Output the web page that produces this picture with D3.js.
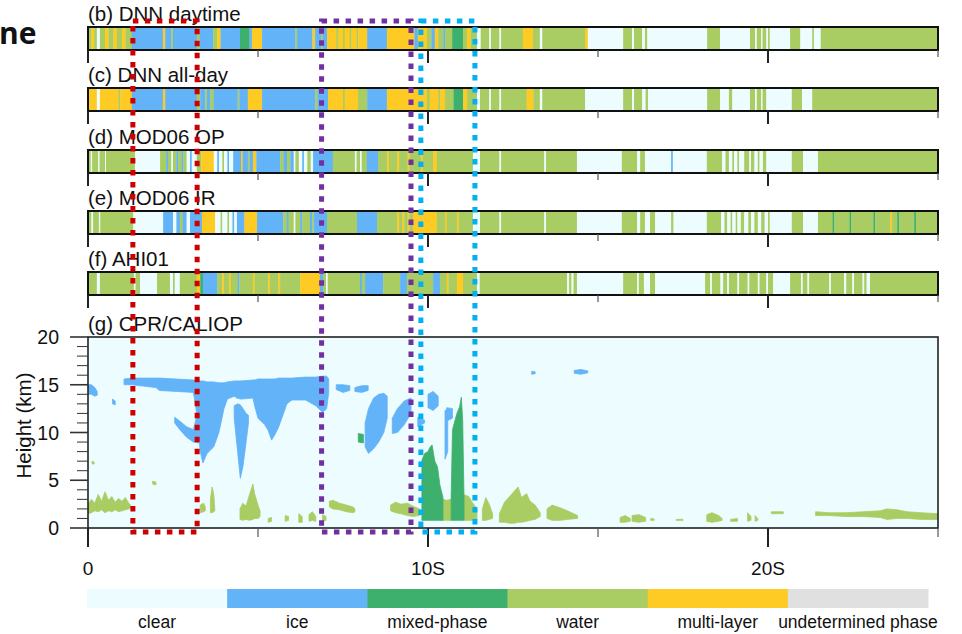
<!DOCTYPE html>
<html>
<head>
<meta charset="utf-8">
<script src="https://cdn.jsdelivr.net/npm/d3@7"></script>
<style>
  body { margin: 0; background: #fff; }
  svg { display: block; }
  text { font-family: "Liberation Sans", Arial, sans-serif; fill: #111; }
</style>
</head>
<body>
<svg id="chart" width="962" height="634"></svg>
<script>
// phase classes (index used in the strip data below)
const phaseNames  = ["clear", "ice", "mixed-phase", "water", "multi-layer", "undetermined phase"];
const phaseColors = ["#edfcff", "#62b3f8", "#3eb06e", "#a9cd62", "#fdcb24", "#e0e0e0"];

const stripNames = ["(b) DNN daytime", "(c) DNN all-day", "(d) MOD06 OP", "(e) MOD06 IR", "(f) AHI01"];

// each strip: [start latitude (deg S), phase] - segment runs to the next start
const dnnDaytime = [[0,3],[0.1,4],[0.18,3],[0.26,0],[0.35,3],[0.5,4],[0.6,3],[0.75,4],[0.85,3],[1.0,4],[1.1,3],
  [1.29,1],[2.2,4],[2.27,1],[2.45,3],[2.5,1],[3.2,3],[3.28,1],[3.68,3],[3.8,4],[3.9,1],[4.47,2],[4.75,1],[4.82,4],
  [5.12,1],[6.1,3],[6.15,1],[6.6,4],[6.68,1],[6.85,3],[6.9,1],[7.03,4],[7.3,3],[7.35,4],[7.5,3],[7.55,4],[7.7,3],
  [7.75,4],[7.9,3],[7.95,4],[8.21,1],[8.79,4],[9.6,1],[9.7,4],[9.97,3],[10.1,1],[10.2,4],[10.3,3],[10.45,1],[10.5,3],
  [10.71,2],[11.03,3],[11.15,4],[11.25,3],[11.44,0],[11.55,3],[11.8,0],[11.85,3],[12.1,0],[12.15,3],[12.79,4],
  [13.09,3],[13.29,0],[13.36,3],[14.62,4],[14.7,0],[15.74,3],[16.0,0],[16.06,3],[16.3,0],[16.38,3],[16.45,0],
  [18.21,3],[18.59,0],[19.47,3],[19.62,0],[19.67,3],[19.8,0],[19.84,3],[19.95,0],[20.0,3],[20.05,0],[20.65,3],
  [20.95,0],[21.3,3],[21.35,0],[21.55,3]];

const dnnAllDay = [[0,4],[0.26,0],[0.35,4],[0.9,3],[0.95,4],[1.29,1],[2.2,4],[2.27,1],[3.2,3],[3.3,1],[3.45,3],
  [3.5,1],[3.6,3],[3.7,1],[4.4,3],[4.45,1],[4.7,4],[5.12,1],[6.68,3],[6.75,1],[7.06,4],[7.5,3],[7.55,4],[7.94,3],
  [8.21,1],[8.79,4],[9.97,3],[10.05,4],[10.3,3],[10.35,4],[10.5,3],[10.75,2],[11.03,4],[11.15,3],[11.44,0],[11.53,3],
  [11.8,0],[11.85,3],[12.1,0],[12.15,3],[12.9,4],[13.1,3],[13.29,0],[13.36,3],[14.62,0],[15.74,3],[16.0,0],[16.06,3],
  [16.3,0],[16.4,3],[16.47,0],[18.21,3],[18.59,0],[18.85,3],[18.95,0],[19.47,3],[19.62,0],[19.67,3],[19.8,0],
  [19.84,3],[19.95,0],[20.7,3],[21.0,0],[21.3,3]];

const mod06Op = [[0,3],[0.08,0],[0.12,3],[0.3,0],[0.34,3],[0.5,0],[0.53,3],[1.38,0],[2.12,3],[2.3,1],[2.35,3],
  [2.45,0],[2.5,3],[2.6,1],[2.65,3],[2.75,1],[2.8,3],[2.9,0],[3.0,1],[3.05,0],[3.2,3],[3.33,4],[3.7,0],[3.8,1],
  [3.85,0],[3.95,3],[4.0,0],[4.1,1],[4.15,0],[4.27,1],[4.5,4],[4.55,1],[4.7,3],[4.75,1],[4.85,4],[4.95,1],[5.65,3],
  [5.75,1],[5.85,3],[5.95,1],[6.05,0],[6.1,3],[6.2,0],[6.3,1],[6.35,0],[6.45,3],[6.55,0],[6.62,1],[7.2,3],[7.85,0],
  [7.9,3],[8.0,0],[8.05,3],[8.2,1],[8.53,3],[8.8,4],[8.85,3],[9.09,4],[9.15,3],[9.4,4],[9.45,3],[9.8,4],[9.85,3],
  [10.15,4],[10.26,3],[11.32,0],[11.53,3],[12.1,0],[12.15,3],[13.42,0],[13.47,3],[14.38,0],[15.7,3],[16.15,0],
  [16.24,3],[16.38,0],[17.15,1],[17.2,0],[18.2,3],[18.65,0],[18.75,3],[18.85,0],[18.95,3],[19.0,0],[19.1,3],
  [19.15,0],[19.3,3],[19.45,0],[19.5,3],[19.6,0],[19.7,3],[19.75,0],[19.85,3],[19.95,0],[20.7,3],[21.03,0],[21.47,3]];

const mod06Ir = [[0,3],[0.1,0],[0.15,3],[0.32,0],[0.36,3],[1.33,0],[2.21,1],[2.5,0],[2.6,1],[2.7,3],[2.78,1],
  [2.9,0],[3.0,1],[3.35,4],[3.74,0],[3.9,3],[3.95,0],[4.1,3],[4.15,0],[4.25,1],[4.3,0],[4.38,1],[4.6,4],[4.97,1],
  [5.74,3],[5.85,1],[5.9,3],[6.05,0],[6.1,3],[6.24,1],[6.3,3],[6.53,1],[6.6,3],[6.65,1],[7.03,3],[7.91,1],[8.5,3],
  [9.09,4],[9.15,3],[9.25,4],[9.3,3],[9.4,4],[9.45,3],[9.56,4],[10.26,3],[10.5,4],[10.55,3],[10.85,4],[10.9,3],
  [11.32,0],[11.53,3],[12.1,0],[12.15,3],[13.42,0],[13.47,3],[14.38,0],[15.7,3],[16.15,0],[16.24,3],[16.38,0],
  [16.53,3],[16.68,0],[17.15,3],[17.22,0],[18.2,3],[18.62,0],[18.72,3],[18.8,0],[18.9,3],[18.95,0],[19.05,3],
  [19.1,0],[19.2,3],[19.3,0],[19.42,3],[19.5,0],[19.6,3],[19.7,0],[19.8,3],[19.9,0],[20.0,3],[20.05,0],[20.7,3],
  [21.03,0],[21.47,3],[21.9,2],[21.95,3],[22.4,2],[22.45,3],[23.1,2],[23.15,3],[23.6,4],[23.65,3],[23.8,2],
  [23.85,3],[24.3,2],[24.35,3]];

const ahi01 = [[0,3],[0.26,0],[0.35,3],[1.35,0],[1.4,3],[1.53,0],[2.03,3],[2.41,0],[2.5,3],[2.55,0],[2.7,3],
  [3.2,4],[3.3,2],[3.38,1],[3.8,3],[3.95,4],[4.0,3],[4.15,4],[4.2,3],[4.4,1],[4.45,3],[4.85,4],[4.9,3],[5.3,4],
  [5.35,3],[5.6,4],[5.65,3],[6.24,4],[6.82,1],[6.91,3],[7.0,0],[7.05,3],[8.0,1],[8.05,3],[8.15,1],[8.68,3],[9.18,1],
  [9.38,3],[10.15,1],[10.35,3],[10.55,4],[10.6,3],[10.85,4],[11.03,3],[11.44,0],[11.52,3],[14.09,0],[14.15,3],
  [14.22,0],[14.28,3],[14.38,0],[15.74,3],[16.15,0],[16.2,3],[16.35,0],[16.53,3],[16.68,0],[18.15,3],[18.3,0],
  [18.35,3],[18.6,0],[18.68,3],[18.8,0],[18.85,3],[19.1,0],[19.15,3],[19.4,0],[19.45,3],[19.7,0],[19.75,3],
  [19.95,0],[20.0,3],[20.15,0],[20.65,3],[20.97,0],[21.02,3],[21.16,0],[21.21,3],[21.8,0],[21.85,3],[22.24,0],
  [22.3,3],[22.48,0],[22.53,3],[22.78,0],[22.83,3],[22.9,0],[23.0,3]];

const stripData = [dnnDaytime, dnnAllDay, mod06Op, mod06Ir, ahi01];

// CPR/CALIOP cloud features: [latitude, base km, top km]
const iceClouds = [
  [[0,14.0,15.0],[0.1,14.0,15.0],[0.2,13.8,14.7],[0.27,13.9,14.3]],
  [[0.72,13.0,13.5],[0.8,12.9,13.3]],
  [[1.06,15.0,15.6],[1.3,15.0,15.7],[2.0,14.7,15.7],[2.1,14.4,15.7],[2.6,14.3,15.6],[3.1,14.2,15.5],[3.2,12.0,15.5],
   [3.3,8.0,15.4],[3.38,6.8,15.4],[3.5,7.8,15.3],[3.7,8.5,15.3],[3.85,10.0,15.2],[4.0,12.5,15.2],[4.1,13.5,15.3],
   [4.3,13.8,15.4],[4.38,13.6,15.4],[4.5,13.5,15.4],[4.85,13.6,15.5],[4.9,12.8,15.5],[5.0,11.5,15.6],[5.2,10.8,15.6],
   [5.3,10.2,15.6],[5.4,9.2,15.6],[5.5,9.8,15.6],[5.6,10.5,15.7],[5.75,12.0,15.7],[5.85,13.0,15.7],[6.0,13.4,15.7],
   [6.4,13.4,15.8],[6.7,12.8,15.8],[6.9,12.1,15.9],[7.02,12.5,15.9],[7.08,14.2,15.6]],
  [[2.55,11.0,11.6],[2.7,10.3,11.2],[2.9,9.5,10.6],[3.1,9.0,10.3],[3.25,8.9,12.5]],
  [[4.3,11.5,12.8],[4.4,8.0,13.0],[4.48,5.2,12.9],[4.56,6.5,12.5],[4.65,9.0,12.0],[4.72,11.0,11.8]],
  [[7.3,14.5,15.0],[7.5,14.2,15.0],[7.7,14.4,14.9]],
  [[7.85,14.3,14.7],[8.05,14.2,14.9],[8.24,14.4,14.9]],
  [[8.15,8.5,11.0],[8.25,7.8,12.5],[8.4,8.3,13.6],[8.55,9.0,14.0],[8.7,10.0,14.1],[8.8,11.5,13.8]],
  [[8.95,9.9,11.5],[9.1,10.0,12.5],[9.3,10.8,13.3],[9.5,12.0,13.6]],
  [[9.7,10.6,11.6],[9.8,10.8,11.4],[9.9,11.0,11.3]],
  [[10.0,12.6,14.0],[10.15,12.3,14.3],[10.3,12.8,13.8]],
  [[10.5,7.2,12.3],[10.58,8.0,12.4]],
  [[10.55,11.2,12.6],[10.72,11.5,12.5]],
  [[13.05,16.1,16.4],[13.15,16.15,16.35]],
  [[14.3,16.2,16.5],[14.5,16.1,16.6],[14.7,16.25,16.45]]
];

const mixedClouds = [
  [[7.95,9.0,9.9],[8.1,8.9,9.8]],
  [[9.82,0.8,7.1],[9.9,0.8,7.8],[10.0,0.8,8.0],[10.05,0.8,8.4],[10.12,0.8,8.7],[10.2,0.8,7.0],[10.28,0.8,6.4],
   [10.35,0.8,4.5],[10.44,0.8,3.2]],
  [[10.68,0.8,3.0],[10.72,0.8,10.3],[10.85,0.8,12.0],[10.93,0.8,12.7],[10.98,0.8,13.7],[11.02,0.8,11.3],[11.06,0.8,3.0]]
];

const waterClouds = [
  [[0,1.5,2.5],[0.1,1.6,3.0],[0.2,1.8,2.6],[0.3,1.7,3.5],[0.4,1.9,2.8],[0.5,1.6,3.8],[0.6,1.8,2.9],[0.7,1.7,3.3],
   [0.8,1.9,2.7],[0.9,1.7,3.1],[1.0,1.8,2.8],[1.1,1.9,3.2],[1.2,2.0,2.6],[1.25,2.1,2.4]],
  [[0.12,6.7,7.0],[0.18,6.7,6.9]],
  [[1.9,4.6,4.9],[2.0,4.5,4.8]],
  [[3.3,1.6,2.4],[3.4,1.7,2.6],[3.45,1.8,2.2]],
  [[3.6,1.6,3.0],[3.65,1.6,4.3],[3.7,1.7,3.5],[3.73,1.8,2.0]],
  [[4.47,0.9,2.0],[4.55,0.8,2.6],[4.65,0.9,2.3],[4.75,0.8,3.5],[4.85,0.9,4.6],[4.9,1.0,3.6],[5.0,1.0,2.4],[5.06,1.2,1.8]],
  [[5.3,0.6,1.0],[5.4,0.7,1.1]],
  [[5.8,0.7,1.3],[5.9,0.8,1.2]],
  [[6.2,0.6,1.5],[6.3,0.6,1.2]],
  [[6.5,0.7,1.4],[6.6,0.8,1.7],[6.7,0.7,1.2]],
  [[6.9,0.7,1.4],[7.0,0.8,1.2]],
  [[7.1,2.2,2.8],[7.2,2.0,2.9],[7.4,1.9,2.6],[7.6,1.7,2.4],[7.8,1.6,2.2],[7.85,1.7,2.0]],
  [[8.9,1.8,2.4],[9.05,1.6,2.7],[9.2,1.5,2.5],[9.4,1.3,2.6],[9.55,1.2,2.3],[9.75,1.3,2.0]],
  [[10.44,0.8,3.0],[10.55,0.8,2.9],[10.68,0.8,3.0]],
  [[11.05,0.8,3.5],[11.2,0.8,3.3],[11.3,0.8,2.7],[11.44,0.9,2.0]],
  [[11.6,0.8,2.0],[11.7,0.8,3.2],[11.8,0.9,2.5],[11.9,1.0,1.5]],
  [[12.1,0.6,1.5],[12.25,0.6,2.7],[12.4,0.5,3.3],[12.55,0.5,3.9],[12.65,0.6,4.3],[12.75,0.6,3.2],[12.9,0.7,3.6],
   [13.0,0.8,2.8],[13.15,0.9,2.4],[13.3,1.2,1.6]],
  [[13.5,1.0,2.0],[13.65,0.8,2.4],[13.9,0.8,2.1],[14.1,0.9,1.8],[14.4,1.0,1.3]],
  [[15.65,0.6,1.1],[15.8,0.6,1.3],[15.95,0.7,1.0]],
  [[16.0,0.7,1.3],[16.2,0.6,1.4],[16.4,0.7,1.1]],
  [[16.55,0.8,1.0],[16.65,0.8,0.95]],
  [[17.3,0.8,0.9],[17.5,0.8,0.9]],
  [[18.2,0.7,1.4],[18.35,0.6,1.6],[18.55,0.7,1.3],[18.65,0.8,1.0]],
  [[18.9,0.7,0.9],[19.1,0.7,1.0]],
  [[19.4,0.7,1.6],[19.5,0.8,1.2]],
  [[19.62,0.7,1.3],[19.7,0.8,1.0]],
  [[20.1,1.5,1.7],[20.45,1.5,1.7]],
  [[21.4,1.3,1.7],[21.8,1.3,1.6],[22.3,1.2,1.6],[22.8,1.2,1.7],[23.3,1.1,1.8],[23.5,0.9,2.0],[23.8,1.0,1.9],
   [24.1,1.0,1.7],[24.5,0.9,1.6],[25,0.9,1.5]]
];

const latMajor = [0, 10, 20];
const latMinor = [5, 15, 25];
const latLabels = ["0", "10S", "20S"];
const heightMajor = [0, 5, 10, 15, 20];

// highlight boxes: [lat start, lat end, colour]
const boxes = [[1.32, 3.21, "#cc0000"], [6.87, 9.5, "#7030a0"], [9.79, 11.38, "#00b0f0"]];

const svg = d3.select("#chart");

const x = d3.scaleLinear().domain([0, 25]).range([88, 938]);
const y = d3.scaleLinear().domain([0, 20]).range([528, 337]);

const stripTop = [27, 88, 150, 211, 272];
const stripH = 23;

// cropped title from the source slide
svg.append("text")
  .attr("x", -1).attr("y", 44)
  .style("font-family", "'Open Sans', sans-serif")
  .attr("font-size", "30px").attr("font-weight", 700)
  .text("ne");

// classification strips
stripData.forEach((pts, k) => {
  const top = stripTop[k];
  const segs = pts.map((p, i) => ({
    a: p[0], b: i + 1 < pts.length ? pts[i + 1][0] : 25, c: p[1]
  }));
  const g = svg.append("g");

  g.selectAll("rect.seg")
    .data(segs)
    .enter()
    .append("rect")
    .attr("x", d => x(d.a))
    .attr("y", top)
    .attr("width", d => x(d.b) - x(d.a) + 0.3)
    .attr("height", stripH)
    .attr("fill", d => phaseColors[d.c]);

  g.append("rect")
    .attr("x", x(0)).attr("y", top)
    .attr("width", x(25) - x(0)).attr("height", stripH)
    .attr("fill", "none").attr("stroke", "#111").attr("stroke-width", 2);

  g.selectAll("line.maj")
    .data(latMajor).enter().append("line")
    .attr("x1", d => x(d)).attr("x2", d => x(d))
    .attr("y1", top + stripH).attr("y2", top + stripH + 13)
    .attr("stroke", "#222").attr("stroke-width", 2);

  g.selectAll("line.min")
    .data(latMinor).enter().append("line")
    .attr("x1", d => x(d)).attr("x2", d => x(d))
    .attr("y1", top + stripH).attr("y2", top + stripH + 7)
    .attr("stroke", "#555").attr("stroke-width", 1.2);

  g.append("text")
    .attr("x", 88).attr("y", top - 6)
    .attr("font-size", "20.5px")
    .text(stripNames[k]);
});

// (g) CPR/CALIOP profile
const panel = svg.append("g");
panel.append("text")
  .attr("x", 88).attr("y", 331)
  .attr("font-size", "20.5px")
  .text("(g) CPR/CALIOP");

panel.append("clipPath").attr("id", "clip")
  .append("rect")
  .attr("x", x(0)).attr("y", y(20))
  .attr("width", x(25) - x(0)).attr("height", y(0) - y(20));

panel.append("rect")
  .attr("x", x(0)).attr("y", y(20))
  .attr("width", x(25) - x(0)).attr("height", y(0) - y(20))
  .attr("fill", phaseColors[0]);

const area = d3.area()
  .x(d => x(d[0]))
  .y0(d => y(d[1]))
  .y1(d => y(d[2]));

const clouds = panel.append("g").attr("clip-path", "url(#clip)");
[[waterClouds, 3], [iceClouds, 1], [mixedClouds, 2]].forEach(([set, c]) => {
  clouds.selectAll(null)
    .data(set).enter().append("path")
    .attr("d", area)
    .attr("fill", phaseColors[c])
    .attr("stroke", phaseColors[c])
    .attr("stroke-width", 0.8);
});

panel.append("rect")
  .attr("x", x(0)).attr("y", y(20))
  .attr("width", x(25) - x(0)).attr("height", y(0) - y(20))
  .attr("fill", "none").attr("stroke", "#222").attr("stroke-width", 1.6);

// height axis, minor ticks every km
const yAxis = panel.append("g");
yAxis.selectAll("line")
  .data(d3.range(0, 21))
  .enter().append("line")
  .attr("x1", d => d % 5 === 0 ? x(0) - 18 : x(0) - 11)
  .attr("x2", x(0))
  .attr("y1", d => y(d)).attr("y2", d => y(d))
  .attr("stroke", "#333").attr("stroke-width", d => d % 5 === 0 ? 1.6 : 1);

yAxis.selectAll("text")
  .data(heightMajor)
  .enter().append("text")
  .attr("x", 59).attr("y", d => y(d))
  .attr("dy", "0.36em")
  .attr("text-anchor", "end")
  .attr("font-size", "19.5px")
  .text(d => d);

panel.append("text")
  .attr("transform", `translate(31, ${y(10) - 7}) rotate(-90)`)
  .attr("text-anchor", "middle")
  .attr("font-size", "20.5px")
  .text("Height (km)");

// latitude axis
const xAxis = panel.append("g");
xAxis.selectAll("line.maj")
  .data(latMajor).enter().append("line")
  .attr("x1", d => x(d)).attr("x2", d => x(d))
  .attr("y1", y(0)).attr("y2", y(0) + 19)
  .attr("stroke", "#222").attr("stroke-width", 2);
xAxis.selectAll("line.min")
  .data(latMinor).enter().append("line")
  .attr("x1", d => x(d)).attr("x2", d => x(d))
  .attr("y1", y(0)).attr("y2", y(0) + 9)
  .attr("stroke", "#555").attr("stroke-width", 1.2);
xAxis.selectAll("text")
  .data(latMajor).enter().append("text")
  .attr("x", d => x(d)).attr("y", 575)
  .attr("text-anchor", "middle")
  .attr("font-size", "19px")
  .text((d, i) => latLabels[i]);

// dotted highlight boxes
svg.selectAll("rect.box")
  .data(boxes).enter().append("rect")
  .attr("x", d => x(d[0])).attr("y", 21)
  .attr("width", d => x(d[1]) - x(d[0]))
  .attr("height", 511)
  .attr("fill", "none")
  .attr("stroke", d => d[2])
  .attr("stroke-width", 5)
  .attr("stroke-dasharray", "5.5 6.5");

// legend colour bar
const legX = d3.scaleBand().domain(phaseNames).range([87, 928]);
const legend = svg.append("g");
legend.selectAll("rect")
  .data(phaseNames).enter().append("rect")
  .attr("x", d => legX(d)).attr("y", 589)
  .attr("width", legX.bandwidth() + 0.5).attr("height", 19)
  .attr("fill", (d, i) => phaseColors[i]);
legend.selectAll("text")
  .data(phaseNames).enter().append("text")
  .attr("x", d => legX(d) + legX.bandwidth() / 2)
  .attr("y", 628)
  .attr("text-anchor", "middle")
  .attr("font-size", "17.5px")
  .text(d => d);
</script>
</body>
</html>
